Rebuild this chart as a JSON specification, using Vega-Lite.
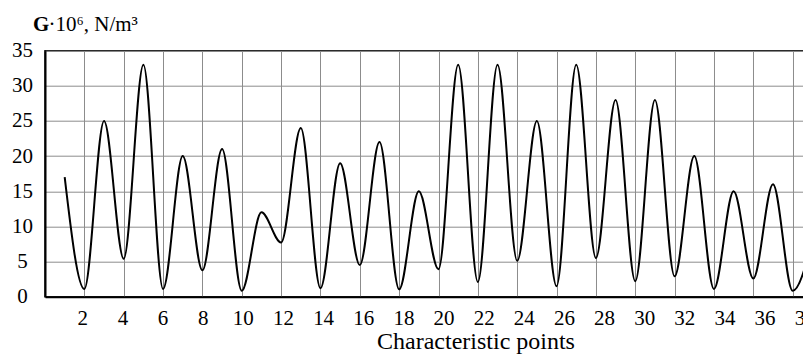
{
  "$schema": "https://vega.github.io/schema/vega-lite/v6.json",
  "autosize": "none",
  "padding": {"left": 45, "top": 50.7, "right": 0, "bottom": 60},
  "width": 787,
  "height": 246,
  "background": "white",
  "title": {
    "text": "G",
    "anchor": "start",
    "frame": "group",
    "font": "Liberation Serif",
    "fontSize": 21,
    "fontWeight": "bold",
    "color": "black",
    "offset": 4,
    "dx": -12,
    "dy": 25
  },
  "data": {
    "values": [
      {"p": 1, "g": 17},
      {"p": 2, "g": 1.1},
      {"p": 3, "g": 25},
      {"p": 4, "g": 5.4},
      {"p": 5, "g": 33},
      {"p": 6, "g": 1.1},
      {"p": 7, "g": 20},
      {"p": 8, "g": 3.75},
      {"p": 9, "g": 21},
      {"p": 10, "g": 0.85},
      {"p": 11, "g": 12},
      {"p": 12, "g": 7.7},
      {"p": 13, "g": 24},
      {"p": 14, "g": 1.2},
      {"p": 15, "g": 19},
      {"p": 16, "g": 4.5},
      {"p": 17, "g": 22},
      {"p": 18, "g": 1.05},
      {"p": 19, "g": 15},
      {"p": 20, "g": 3.9},
      {"p": 21, "g": 33},
      {"p": 22, "g": 2.1},
      {"p": 23, "g": 33},
      {"p": 24, "g": 5.1},
      {"p": 25, "g": 25},
      {"p": 26, "g": 1.5},
      {"p": 27, "g": 33},
      {"p": 28, "g": 5.5},
      {"p": 29, "g": 28},
      {"p": 30, "g": 2.2},
      {"p": 31, "g": 28},
      {"p": 32, "g": 2.9},
      {"p": 33, "g": 20},
      {"p": 34, "g": 1.1},
      {"p": 35, "g": 15},
      {"p": 36, "g": 2.6},
      {"p": 37, "g": 16},
      {"p": 38, "g": 0.85},
      {"p": 39, "g": 8}
    ]
  },
  "mark": {"type": "line", "interpolate": "monotone", "color": "black", "strokeWidth": 2, "clip": true},
  "encoding": {
    "x": {
      "field": "p",
      "type": "quantitative",
      "scale": {"domain": [0, 40], "nice": false, "zero": false},
      "axis": {
        "values": [2, 4, 6, 8, 10, 12, 14, 16, 18, 20, 22, 24, 26, 28, 30, 32, 34, 36, 38, 40],
        "title": "Characteristic points",
        "titleX": 430.5,
        "titleY": 52.3,
        "titleBaseline": "alphabetic",
        "titleFont": "Liberation Serif",
        "titleFontSize": 24,
        "titleFontWeight": "normal",
        "titleColor": "black",
        "labelFont": "Liberation Serif",
        "labelFontSize": 21,
        "labelColor": "black",
        "labelPadding": 11,
        "labelOffset": {"expr": "-2.8 + 0.39 * datum.value"},
        "labelFlush": false,
        "labelOverlap": false,
        "ticks": false,
        "tickSize": 0,
        "domainColor": "black",
        "domainWidth": 2,
        "grid": true,
        "gridColor": "#8c8c8c",
        "gridWidth": 1,
        "gridOpacity": 1
      }
    },
    "y": {
      "field": "g",
      "type": "quantitative",
      "scale": {"domain": [0, 35], "nice": false},
      "axis": {
        "values": [0, 5, 10, 15, 20, 25, 30, 35],
        "title": "·10⁶, N/m³",
        "titleAngle": 0,
        "titleX": 3,
        "titleY": -20,
        "titleAlign": "left",
        "titleBaseline": "alphabetic",
        "titleFont": "Liberation Serif",
        "titleFontSize": 21,
        "titleFontWeight": "normal",
        "titleColor": "black",
        "labelFont": "Liberation Serif",
        "labelFontSize": 21,
        "labelColor": "black",
        "labelAlign": "center",
        "labelBaseline": "middle",
        "labelPadding": 23,
        "labelFlush": false,
        "labelOverlap": false,
        "ticks": false,
        "tickSize": 0,
        "domainColor": "black",
        "domainWidth": 2,
        "grid": true,
        "gridColor": "#8c8c8c",
        "gridWidth": 1,
        "gridOpacity": 1
      }
    }
  },
  "config": {
    "view": {"stroke": "black", "strokeWidth": 1.5}
  }
}
